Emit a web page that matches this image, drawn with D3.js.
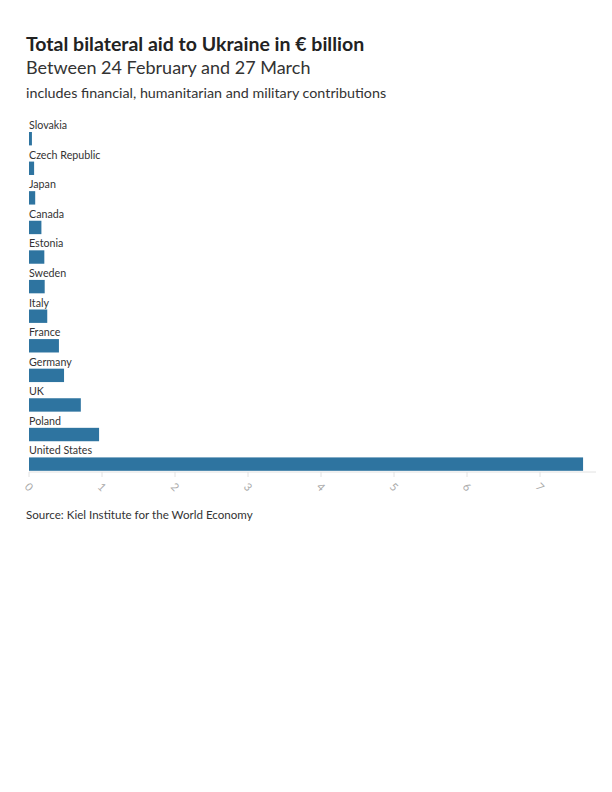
<!DOCTYPE html>
<html><head><meta charset="utf-8">
<script src="https://cdn.jsdelivr.net/npm/d3@7"></script>
<style>
body{margin:0;background:#fff;}
text{font-family:Lato,"Noto Sans",sans-serif;}
</style></head>
<body><svg id="c" width="612" height="792"></svg>
<script>
const countries = ["Slovakia","Czech Republic","Japan","Canada","Estonia","Sweden","Italy","France","Germany","UK","Poland","United States"];
const aid = [0.04,0.07,0.085,0.17,0.21,0.215,0.25,0.41,0.48,0.71,0.96,7.59];
const ticks = [0,1,2,3,4,5,6,7];

const svg = d3.select("#c");
svg.append("text").attr("x",26).attr("y",51).attr("font-size",19.5).attr("font-weight",700).attr("fill","#222")
  .text("Total bilateral aid to Ukraine in € billion");
svg.append("text").attr("x",26).attr("y",74).attr("font-size",18).attr("fill","#333")
  .text("Between 24 February and 27 March");
svg.append("text").attr("x",26).attr("y",98).attr("font-size",14.3).attr("fill","#333")
  .text("includes financial, humanitarian and military contributions");

const x = d3.scaleLinear().domain([0,7]).range([29,540]);
const y = d3.scaleBand().domain(countries).range([116,471]).paddingInner(0).paddingOuter(0);
const g = svg.append("g");
countries.forEach((c,i)=>{
  const top = y(c);
  g.append("text").attr("x",29).attr("y",top+13).attr("font-size",10.7).attr("fill","#333").text(c);
  g.append("rect").attr("x",x(0)).attr("y",top+16).attr("width",x(aid[i])-x(0)).attr("height",13.4).attr("fill","#2e74a0");
});
// axis
const ax = svg.append("g").attr("transform","translate(0,472)");
ax.append("line").attr("x1",29).attr("x2",596).attr("stroke","#e2e2e2");
ticks.forEach(t=>{
  ax.append("line").attr("x1",x(t)).attr("x2",x(t)).attr("y1",0).attr("y2",5).attr("stroke","#e2e2e2");
  ax.append("text").attr("transform",`translate(${x(t)},15) rotate(45)`).attr("text-anchor","middle")
    .attr("dy","0.35em").attr("font-size",11).attr("fill","#aaa").text(t);
});
svg.append("text").attr("x",26).attr("y",519).attr("font-size",11.6).attr("fill","#333")
  .text("Source: Kiel Institute for the World Economy");
</script></body></html>
